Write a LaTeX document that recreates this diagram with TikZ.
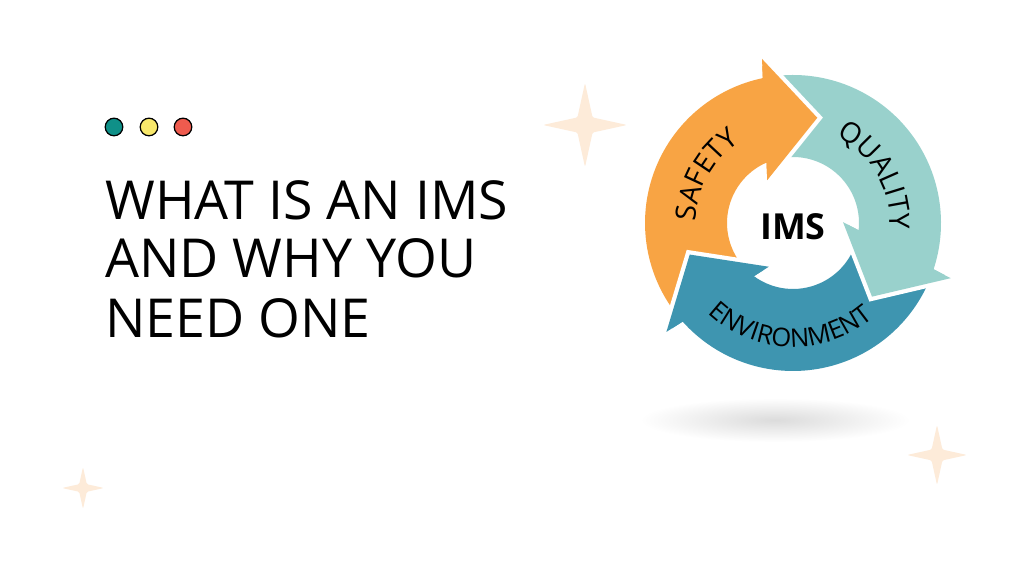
\documentclass[tikz,border=0pt]{standalone}
\usepackage{fontspec}
\setmainfont{Open Sans}
\usetikzlibrary{decorations.text}

\definecolor{safety}{HTML}{F8A444}
\definecolor{quality}{HTML}{99D1CC}
\definecolor{enviro}{HTML}{3E95B0}
\definecolor{spark}{HTML}{FDEBD9}
\definecolor{dotteal}{HTML}{0F9088}
\definecolor{dotyellow}{HTML}{F8E86B}
\definecolor{dotred}{HTML}{EE5B4E}
\newcommand{\ringfont}{\fontsize{20}{22}\selectfont}
\newcommand{\lowfont}{\fontsize{18.2}{20}\selectfont}

\begin{document}
\begin{tikzpicture}[
  x=0.025cm, y=0.025cm,
  title/.style={anchor=base west, inner sep=0pt, font=\fontsize{38.2}{41}\selectfont},
  dot/.style={circle, draw=black, line width=0.9pt, minimum size=0.44cm, inner sep=0pt},
  gap/.style={white, line width=6pt, line join=miter},
  ringlabel/.style={decorate, decoration={text along path, text align=center, text={|\ringfont|#1}}},
  lowlabel/.style={decorate, decoration={text along path, text align=center, text={|\lowfont|#1}}}
]
\useasboundingbox[fill=white] (0,0) rectangle (1024,576);

% sparkles
\foreach \sx/\sy/\sr in {585/451/42, 937/121/30, 83/88/21}
  \fill[spark, rounded corners=1] (\sx,\sy+\sr) -- (\sx+0.18*\sr,\sy+0.18*\sr) -- (\sx+\sr,\sy)
    -- (\sx+0.18*\sr,\sy-0.18*\sr) -- (\sx,\sy-\sr) -- (\sx-0.18*\sr,\sy-0.18*\sr)
    -- (\sx-\sr,\sy) -- (\sx-0.18*\sr,\sy+0.18*\sr) -- cycle;

% window dots
\node[dot, fill=dotteal] (d1) at (114,449) {};
\node[dot, fill=dotyellow] (d2) at (149,449) {};
\node[dot, fill=dotred] (d3) at (183,449) {};

% title
\node[title] (line1) at (105,356) {WHAT IS AN IMS};
\node[title] (line2) at (105,298) {AND WHY YOU};
\node[title] (line3) at (105,238) {NEED ONE};

% shadow under the cycle
\shade[inner color=black!14, outer color=white] (775,156) ellipse [x radius=135, y radius=22];

\coordinate (ctr) at (793,353);

% arrow bodies
\foreach \rot/\col in {0/safety, -120/quality, 120/enviro}{
  \begin{scope}[shift={(ctr)}, rotate=\rot]
    \fill[\col] (215.9:148) arc[start angle=215.9, end angle=101.8, radius=148]
      -- (100.7:167) -- (77:108) -- (121:50) -- (113.7:66)
      arc[start angle=113.7, end angle=216.6, radius=66]
      -- (197:108) -- cycle;
  \end{scope}
}
% arrow heads with white gap
\foreach \rot/\col in {0/safety, -120/quality, 120/enviro}{
  \begin{scope}[shift={(ctr)}, rotate=\rot]
    \draw[gap] (100.7:167) -- (77:108) -- (121:50);
    \fill[\col] (100.7:167) -- (77:108) -- (121:50) -- cycle;
  \end{scope}
}

\node[font=\fontsize{25.5}{27}\selectfont\bfseries, inner sep=0pt] (ims) at (793,349.5) {IMS};

% labels on the ring
\path[ringlabel=SAFETY] ([shift={(192:97)}]ctr) arc[start angle=192, end angle=110, radius=97];
\path[ringlabel=QUALITY] ([shift={(70:97)}]ctr) arc[start angle=70, end angle=-10, radius=97];
\path[lowlabel=ENVIRONMENT] ([shift={(-150:124)}]ctr) arc[start angle=-150, end angle=-33, radius=124];
\end{tikzpicture}
\end{document}
